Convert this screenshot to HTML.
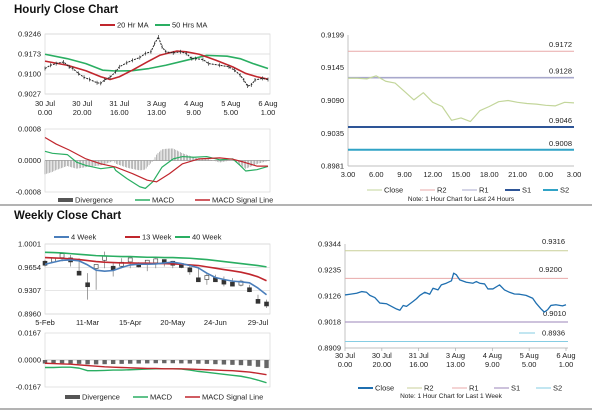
<!DOCTYPE html>
<html><head><meta charset="utf-8"><style>
html,body{margin:0;padding:0;background:#fff;}
svg{display:block;font-family:"Liberation Sans",Arial,sans-serif;}
</style></head><body>
<svg id="s" width="600" height="413" viewBox="0 0 600 413" xmlns="http://www.w3.org/2000/svg">
<text x="14" y="13" font-size="11.5" font-weight="bold" fill="#111">Hourly Close Chart</text>
<text x="14" y="219" font-size="11.5" font-weight="bold" fill="#111">Weekly Close Chart</text>
<line x1="0" y1="205" x2="592" y2="205" stroke="#9a9a9a" stroke-width="1.5"/>
<line x1="0" y1="409" x2="592" y2="409" stroke="#9a9a9a" stroke-width="1.5"/>
<g id="g"></g>
</svg>
<script>
// ---------- DATA ----------
// Hourly close chart (hours since 30 Jul 0.00)
const hcHours=[0,3,6,10,13,15,18,21,24,28,30,32,35,38,40,44,47,51,54,57,59,61,63,65,69,73,76,79,81,85,88,94,99,102,105,107,109,111,113,117,120];
const hcClose=[.9120,.9132,.9138,.9144,.9126,.9120,.9102,.9088,.9080,.9068,.9066,.9078,.9088,.9108,.9126,.9141,.9150,.9160,.9175,.9181,.9211,.9235,.9199,.9181,.9177,.9181,.9175,.9156,.9156,.9153,.9138,.9132,.9126,.9114,.9096,.9078,.9056,.9060,.9078,.9084,.9080];
const ma20Hours=[0,12,22,30,35,40,47,55,62,71,76,83,92,101,108,114,120];
const ma20Vals=[.9147,.9132,.9112,.9090,.9080,.9090,.9114,.9144,.9169,.9184,.9181,.9172,.9150,.9126,.9102,.9090,.9081];
const ma50Hours=[0,12,22,31,38,47,56,65,76,87,98,105,112,120];
const ma50Vals=[.9172,.9156,.9138,.9114,.9111,.9112,.9120,.9132,.9150,.9168,.9165,.9156,.9138,.9120];
const hTickLabels1=["30 Jul","30 Jul","31 Jul","3 Aug","4 Aug","5 Aug","6 Aug"];
const hTickLabels2=["0.00","20.00","16.00","13.00","9.00","5.00","1.00"];
const hTickHours=[0,20,40,60,80,100,120];
const hPriceTicks=[.9246,.9173,.9100,.9027];
// Hourly MACD
const hMacdHours=[0,4,12,17,22,30,37,38,44,51,54,58,63,69,74,80,87,94,101,105,108,114,120];
const hMacdVals=[.000233,.000183,.00015,-.0000417,-.000125,-.000208,-.000167,-.00025,-.000458,-.000667,-.000708,-.000542,-.000167,.0000417,.0001,.0000833,.0001,.0000167,.0000417,-.000125,-.000267,-.000233,-.00015];
const hSigHours=[0,6,13,22,30,38,47,55,60,67,74,83,94,101,107,114,120];
const hSigVals=[.000583,.000417,.000267,.0000417,-.0000833,-.000167,-.000333,-.0005,-.000542,-.000333,-.0000833,.0000417,.0000667,.0000333,-.0000417,-.000142,-.000142];
const hMacdTicks=[.0008,0,-.0008];
// 24h chart
const dHours=[3,4,5,6,7,8,9,10,11,12,13,14,15,16,17,18,19,20,21,22,23,24,25,26,27];
const dClose=[.9127,.9127,.9126,.9131,.9122,.9119,.9105,.9091,.9103,.9087,.9080,.9057,.9061,.9055,.9073,.9080,.9088,.9090,.9087,.9085,.9084,.9082,.9081,.9087,.9086];
const dLevels=[.9172,.9128,.9046,.9008];
const dLevelNames=["R2","R1","S1","S2"];
const dTickLabels=["3.00","6.00","9.00","12.00","15.00","18.00","21.00","0.00","3.00"];
const dPriceTicks=[.9199,.9145,.9090,.9035,.8981];
// Weekly chart (27 weeks from 5-Feb)
const wk4=[.9700,.9730,.9759,.9764,.9750,.9690,.9612,.9597,.9607,.9651,.9690,.9700,.9700,.9705,.9720,.9730,.9710,.9681,.9646,.9567,.9503,.9473,.9449,.9439,.9424,.9345,.9247];
const wk13=[.9799,.9794,.9789,.9779,.9769,.9755,.9740,.9730,.9725,.9720,.9720,.9715,.9715,.9710,.9710,.9705,.9700,.9690,.9681,.9661,.9641,.9621,.9602,.9582,.9552,.9513,.9454];
const wk40=[.9878,.9873,.9868,.9858,.9848,.9838,.9828,.9823,.9819,.9814,.9814,.9809,.9804,.9804,.9799,.9799,.9794,.9789,.9779,.9769,.9755,.9740,.9725,.9710,.9695,.9680,.9661];
const wClose=[.9715,.9764,.9828,.9764,.9567,.9395,.9666,.9789,.9641,.9700,.9764,.9690,.9730,.9750,.9740,.9715,.9681,.9616,.9469,.9503,.9469,.9434,.9404,.9419,.9321,.9148,.9109];
const wHigh=[.9764,.9799,.9848,.9838,.9789,.9567,.9690,.9888,.9715,.9789,.9789,.9730,.9764,.9789,.9764,.9750,.9715,.9700,.9641,.9567,.9543,.9518,.9493,.9469,.9395,.9247,.9173];
const wLow=[.9666,.9740,.9740,.9666,.9543,.9173,.9321,.9641,.9518,.9641,.9641,.9651,.9597,.9641,.9666,.9641,.9641,.9543,.9469,.9395,.9469,.9370,.9370,.9370,.9286,.9123,.9050];
const wTickLabels=["5-Feb","11-Mar","15-Apr","20-May","24-Jun","29-Jul"];
const wTickWeeks=[0,5,10,15,20,25];
const wPriceTicks=[1.0001,.9654,.9307,.8960];
const wMacd=[-.00463,-.00463,-.00442,-.00442,-.00503,-.00663,-.00663,-.00643,-.00623,-.00623,-.00603,-.00583,-.00563,-.00543,-.00543,-.00543,-.00563,-.00623,-.00704,-.00764,-.00824,-.00884,-.00945,-.01005,-.01106,-.01246,-.01407];
const wSignal=[-.00201,-.00221,-.00241,-.00261,-.00302,-.00342,-.00382,-.00422,-.00442,-.00463,-.00483,-.00503,-.00523,-.00523,-.00543,-.00543,-.00543,-.00563,-.00583,-.00603,-.00623,-.00643,-.00663,-.00704,-.00744,-.00824,-.00905];
const wDiv=[-.0022,-.0022,-.0021,-.0022,-.0024,-.0027,-.0027,-.0026,-.0025,-.0024,-.0023,-.0022,-.0021,-.0020,-.0020,-.0020,-.0021,-.0022,-.0023,-.0024,-.0026,-.0028,-.0030,-.0032,-.0036,-.0042,-.0050];
const wMacdTicks=[.0167,0,-.0167];
// 1-week chart
const kHours=[0,2.7,6.3,9,11.7,13.5,16.2,18.9,22.6,25.3,28,29.8,31.6,33.4,37,38.8,40.6,43.3,46,47.8,50.5,52.3,55,57.8,59,60.5,62.3,65.9,69.5,71.3,73.1,75.8,77.6,80.3,83.9,86.6,89.3,92,94.7,98.3,101.9,103.7,106.4,108.2,110,111.8,114.5,118.1,120];
const kClose=[.9131,.9134,.9138,.9145,.9142,.9129,.9120,.9097,.9094,.9083,.9072,.9067,.9087,.9083,.9104,.9115,.9129,.9142,.9134,.9159,.9152,.9173,.9180,.9190,.9222,.9215,.9194,.9184,.9180,.9187,.9180,.9177,.9156,.9156,.9173,.9152,.9142,.9135,.9134,.9129,.9117,.9097,.9073,.9059,.9069,.9087,.9090,.9085,.9090];
const kLevels=[.9316,.9200,.9018,.8936];
const kLevelLabels=["0.9316","0.9200","0.9010","0.8936"];
const kPriceTicks=[.9344,.9235,.9126,.9018,.8909];

// ---------- HELPERS ----------
const NS="http://www.w3.org/2000/svg";
const G=document.getElementById('g');
function mk(tag,attrs,name,parent){
  const e=document.createElementNS(NS,tag);
  for(const k in attrs) e.setAttribute(k,attrs[k]);
  
  
  (parent||G).appendChild(e);return e;
}
function txt(x,y,s,name,size,anchor,fill){
  const t=mk('text',{x:x,y:y,'font-size':size||7.5,'text-anchor':anchor||'start',fill:fill||'#222'},name);
  t.textContent=s;return t;
}
function lin(d0,d1,r0,r1){return v=>r0+(v-d0)/(d1-d0)*(r1-r0);}
function path(xs,ys,sx,sy,stroke,w,name){
  let d='';for(let i=0;i<xs.length;i++)d+=(i?'L':'M')+sx(xs[i]).toFixed(2)+' '+sy(ys[i]).toFixed(2);
  return mk('path',{d:d,fill:'none',stroke:stroke,'stroke-width':w,'stroke-linejoin':'round'},name);
}
function interp(xs,ys,x){for(let i=1;i<xs.length;i++){if(x<=xs[i]){const t=(x-xs[i-1])/(xs[i]-xs[i-1]);return ys[i-1]+t*(ys[i]-ys[i-1]);}}return ys[ys.length-1];}
function yTicks(ticks,sy,x,fmt,name){ticks.forEach(v=>txt(x,sy(v)+2.5,fmt(v),name,7.5,'end'));}
function legendLine(x,y,color,label,name,w){
  mk('line',{x1:x,y1:y,x2:x+15,y2:y,stroke:color,'stroke-width':w||2},name+'-swatch');
  txt(x+17,y+2.5,label,name,7.5);
}
const idx=a=>a.map((_,i)=>i);

// ---------- PANEL 1: hourly price ----------
{
 const sx=lin(0,120,45,268), sy=lin(.9246,.9027,34,94);
 mk('rect',{x:45,y:34,width:225,height:60,fill:'none',stroke:'#d8d8d8','stroke-width':0.7},'hourly-plot-area');
 hPriceTicks.forEach(v=>mk('line',{x1:45,y1:sy(v),x2:270,y2:sy(v),stroke:'#d8d8d8','stroke-width':0.7},'hourly-gridline'));
 yTicks(hPriceTicks,sy,41,v=>v.toFixed(4),'hourly-y-tick');
 hTickHours.forEach((h,i)=>{txt(sx(h),106,hTickLabels1[i],'hourly-x-tick',7.5,'middle');txt(sx(h),115,hTickLabels2[i],'hourly-x-tick',7.5,'middle');});
 path(ma50Hours,ma50Vals,sx,sy,'#2aae62',1.6,'ma50-line');
 path(ma20Hours,ma20Vals,sx,sy,'#c0262d',1.6,'ma20-line');
 path(hcHours,hcClose,sx,sy,'#222',1,'hourly-close-line').setAttribute('stroke-dasharray','2 1');
 hcHours.forEach((h,i)=>mk('line',{x1:sx(h),y1:sy(hcClose[i])-2,x2:sx(h),y2:sy(hcClose[i])+2,stroke:'#333','stroke-width':0.7},'hourly-candle'));
 legendLine(100,25,'#c0262d','20 Hr MA','legend-20hr-ma');
 legendLine(155,25,'#2aae62','50 Hrs MA','legend-50hr-ma');
}
// ---------- PANEL 2: hourly MACD ----------
{
 const sx=lin(0,120,45,268), sy=lin(.0008,-.0008,129,192);
 mk('rect',{x:45,y:129,width:225,height:63,fill:'none',stroke:'#d8d8d8','stroke-width':0.7},'hourly-macd-plot');
 mk('line',{x1:45,y1:sy(0),x2:270,y2:sy(0),stroke:'#999','stroke-width':0.7},'hourly-macd-zero');
 yTicks(hMacdTicks,sy,41,v=>v.toFixed(4),'hourly-macd-y-tick');
 for(let h=0;h<=120;h+=0.8){
  const d=interp(hMacdHours,hMacdVals,h)-interp(hSigHours,hSigVals,h);
  mk('line',{x1:sx(h),y1:sy(0),x2:sx(h),y2:sy(d),stroke:'#888','stroke-width':0.6},'hourly-divergence-bar');
 }
 path(hMacdHours,hMacdVals,sx,sy,'#2aae62',1.2,'hourly-macd-line');
 path(hSigHours,hSigVals,sx,sy,'#c0262d',1.2,'hourly-signal-line');
 mk('rect',{x:58,y:198,width:15,height:4,fill:'#555'},'legend-divergence-swatch');
 txt(75,202.5,'Divergence','legend-divergence');
 legendLine(135,200,'#2aae62','MACD','legend-macd',1.5);
 legendLine(195,200,'#c0262d','MACD Signal Line','legend-macd-signal',1.5);
}
// ---------- PANEL 3: 24h ----------
{
 const sx=lin(3,27,348,574), sy=lin(.9199,.8981,35,166);
 mk('line',{x1:348,y1:35,x2:348,y2:166,stroke:'#aaa','stroke-width':0.7},'day-y-axis');
 mk('line',{x1:348,y1:166,x2:574,y2:166,stroke:'#aaa','stroke-width':0.7},'day-x-axis');
 yTicks(dPriceTicks,sy,344,v=>v.toFixed(4),'day-y-tick');
 dTickLabels.forEach((l,i)=>txt(sx(3+i*3),177,l,'day-x-tick',7.5,'middle'));
 const cols=['#e8a9a9','#a8a8cc','#2e5597','#31a3c6'], ws=[1,1.6,2,2];
 dLevels.forEach((v,i)=>{mk('line',{x1:348,y1:sy(v),x2:574,y2:sy(v),stroke:cols[i],'stroke-width':ws[i]},'day-level-'+dLevelNames[i].toLowerCase());
   txt(572,sy(v)-4,v.toFixed(4),'day-level-label',7.5,'end');});
 path(dHours,dClose,sx,sy,'#c3d69b',1.2,'day-close-line');
 legendLine(367,190,'#c3d69b','Close','legend-day-close',1);
 legendLine(420,190,'#e8a9a9','R2','legend-day-r2',1);
 legendLine(462,190,'#a8a8cc','R1','legend-day-r1',1);
 legendLine(505,190,'#2e5597','S1','legend-day-s1',2);
 legendLine(543,190,'#31a3c6','S2','legend-day-s2',2);
 txt(461,201,'Note: 1 Hour Chart for Last 24 Hours','day-note',6.5,'middle');
}
// ---------- PANEL 4: weekly price ----------
{
 const sx=lin(0,25,45,258), sy=lin(1.0001,.8960,244,314);
 mk('rect',{x:45,y:244,width:225,height:70,fill:'none',stroke:'#d8d8d8','stroke-width':0.7},'weekly-plot-area');
 wPriceTicks.forEach(v=>mk('line',{x1:45,y1:sy(v),x2:270,y2:sy(v),stroke:'#d8d8d8','stroke-width':0.7},'weekly-gridline'));
 yTicks(wPriceTicks,sy,41,v=>v.toFixed(4),'weekly-y-tick');
 wTickWeeks.forEach((w,i)=>txt(sx(w),325,wTickLabels[i],'weekly-x-tick',7.5,'middle'));
 wClose.forEach((c,i)=>{
  mk('line',{x1:sx(i),y1:sy(wHigh[i]),x2:sx(i),y2:sy(wLow[i]),stroke:'#777','stroke-width':0.7},'weekly-candle-wick');
  const up=i>0&&c>=wClose[i-1];
  mk('rect',{x:sx(i)-2,y:sy(c)-2,width:4,height:4,fill:up?'#fff':'#333',stroke:'#333','stroke-width':0.6},'weekly-candle-body');
 });
 path(idx(wk40),wk40,sx,sy,'#2aae62',1.6,'week40-line');
 path(idx(wk13),wk13,sx,sy,'#c0262d',1.6,'week13-line');
 path(idx(wk4),wk4,sx,sy,'#4a7ebb',1.6,'week4-line');
 legendLine(54,237,'#4a7ebb','4 Week','legend-4week');
 legendLine(125,237,'#c0262d','13 Week','legend-13week');
 legendLine(175,237,'#2aae62','40 Week','legend-40week');
}
// ---------- PANEL 5: weekly MACD ----------
{
 const sx=lin(0,25,45,258), sy=lin(.0167,-.0167,333,387);
 mk('rect',{x:45,y:333,width:225,height:54,fill:'none',stroke:'#d8d8d8','stroke-width':0.7},'weekly-macd-plot');
 mk('line',{x1:45,y1:sy(0),x2:270,y2:sy(0),stroke:'#bbb','stroke-width':0.7},'weekly-macd-zero');
 yTicks(wMacdTicks,sy,41,v=>v.toFixed(4),'weekly-macd-y-tick');
 wDiv.forEach((d,i)=>mk('rect',{x:sx(i)-2.2,y:sy(0),width:4.4,height:sy(d)-sy(0),fill:'#666'},'weekly-divergence-bar'));
 path(idx(wMacd),wMacd,sx,sy,'#2aae62',1.4,'weekly-macd-line');
 path(idx(wSignal),wSignal,sx,sy,'#c0262d',1.4,'weekly-signal-line');
 mk('rect',{x:65,y:395,width:15,height:4,fill:'#555'},'legend-w-divergence-swatch');
 txt(82,399.5,'Divergence','legend-w-divergence');
 legendLine(133,397,'#2aae62','MACD','legend-w-macd',1.5);
 legendLine(185,397,'#c0262d','MACD Signal Line','legend-w-macd-signal',1.5);
}
// ---------- PANEL 6: 1 week hourly ----------
{
 const sx=lin(0,120,345,566), sy=lin(.9344,.8909,244,348);
 mk('line',{x1:345,y1:244,x2:345,y2:348,stroke:'#aaa','stroke-width':0.7},'week-y-axis');
 mk('line',{x1:345,y1:348,x2:568,y2:348,stroke:'#aaa','stroke-width':0.7},'week-x-axis');
 yTicks(kPriceTicks,sy,341,v=>v.toFixed(4),'week-y-tick');
 hTickHours.forEach((h,i)=>{mk('line',{x1:sx(h),y1:348,x2:sx(h),y2:351,stroke:'#aaa','stroke-width':0.7},'week-x-tickmark');
   txt(sx(h),358,hTickLabels1[i],'week-x-tick',7.5,'middle');txt(sx(h),367,hTickLabels2[i],'week-x-tick',7.5,'middle');});
 const cols=['#c9cf98','#e8a9a9','#9b86b8','#86cde3'];
 kLevels.forEach((v,i)=>mk('line',{x1:345,y1:sy(v),x2:568,y2:sy(v),stroke:cols[i],'stroke-width':1},'week-level-line'));
 txt(565,244,kLevelLabels[0],'week-level-label',7.5,'end');
 txt(562,272,kLevelLabels[1],'week-level-label',7.5,'end');
 txt(566,316,kLevelLabels[2],'week-level-label',7.5,'end');
 mk('line',{x1:519,y1:333,x2:535,y2:333,stroke:'#86cde3','stroke-width':1},'week-s2-label-line');
 txt(565,335.5,kLevelLabels[3],'week-level-label',7.5,'end');
 path(kHours,kClose,sx,sy,'#1f6fb0',1.3,'week-close-line');
 legendLine(358,388,'#1f6fb0','Close','legend-week-close',2);
 legendLine(407,388,'#c9cf98','R2','legend-week-r2',1);
 legendLine(452,388,'#e8a9a9','R1','legend-week-r1',1);
 legendLine(494,388,'#9b86b8','S1','legend-week-s1',1);
 legendLine(536,388,'#86cde3','S2','legend-week-s2',1);
 txt(451,398,'Note: 1 Hour Chart for Last 1 Week','week-note',6.5,'middle');
}
</script>
</body></html>
